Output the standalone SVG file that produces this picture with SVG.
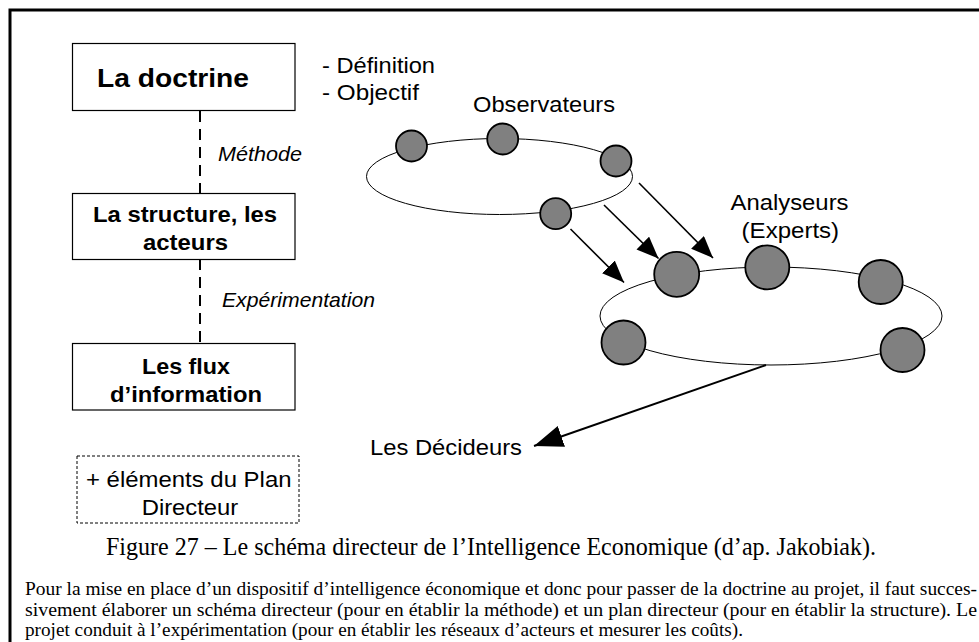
<svg xmlns="http://www.w3.org/2000/svg" width="979" height="642" viewBox="0 0 979 642">
<style>
.sans{font-family:"Liberation Sans",Arial,sans-serif;fill:#000}
.b{font-weight:bold;font-size:22px}
.r{font-size:21.5px}
.i{font-style:italic;font-size:21px}
.serif{font-family:"Liberation Serif","Times New Roman",serif;fill:#000}
.box{fill:#fff;stroke:#000;stroke-width:1.2}
.dbox{fill:#fff;stroke:#000;stroke-width:1;stroke-dasharray:3 2}
.ring{fill:none;stroke:#000;stroke-width:1}
.ob{fill:#808080;stroke:#000;stroke-width:1.8}
.link{stroke:#000;stroke-width:2;stroke-dasharray:11 7;fill:none}
.arr{stroke:#000;stroke-width:1.6;fill:none;marker-end:url(#ah)}
.arr2{stroke:#000;stroke-width:2;fill:none;marker-end:url(#ah2)}
</style>
<defs>
<marker id="ah" markerUnits="userSpaceOnUse" markerWidth="23" markerHeight="18" refX="22" refY="9" orient="auto"><path d="M0,0 L22,9 L0,18 z" fill="#000"/></marker>
<marker id="ah2" markerUnits="userSpaceOnUse" markerWidth="30" markerHeight="22" refX="29" refY="11" orient="auto"><path d="M0,0 L29,11 L0,22 z" fill="#000"/></marker>
</defs>
<rect x="0" y="0" width="979" height="642" fill="#fff"/>
<g id="frame"><path d="M10,642 V10 H979" fill="none" stroke="#000" stroke-width="3"/></g>

<g id="connectors">
<line class="link" x1="200" y1="111" x2="200" y2="193"/>
<line class="link" x1="200" y1="259" x2="200" y2="343"/>
<line class="arr" x1="639" y1="183" x2="713" y2="258"/>
<line class="arr" x1="604" y1="205" x2="658.5" y2="258.5"/>
<line class="arr" x1="570.5" y1="229" x2="624" y2="282.5"/>
<line class="arr2" x1="766" y1="365" x2="534" y2="446"/>
</g>

<g id="doctrine">
<rect class="box" x="72.5" y="43.5" width="222.5" height="67"/>
<text class="sans b" x="97" y="87" style="font-size:25px" textLength="152" lengthAdjust="spacingAndGlyphs">La doctrine</text>
</g>
<g id="doctrine-notes">
<text class="sans r" x="322" y="73" textLength="113" lengthAdjust="spacingAndGlyphs">- Définition</text>
<text class="sans r" x="322" y="100" textLength="97" lengthAdjust="spacingAndGlyphs">- Objectif</text>
</g>
<g id="methode-label"><text class="sans i" x="218" y="161" textLength="84" lengthAdjust="spacingAndGlyphs">Méthode</text></g>
<g id="structure">
<rect class="box" x="72.5" y="193.5" width="222.5" height="66"/>
<text class="sans b" x="93" y="222" textLength="184" lengthAdjust="spacingAndGlyphs">La structure, les</text>
<text class="sans b" x="143" y="250" textLength="85" lengthAdjust="spacingAndGlyphs">acteurs</text>
</g>
<g id="experimentation-label"><text class="sans i" x="222" y="306.5" textLength="153" lengthAdjust="spacingAndGlyphs">Expérimentation</text></g>
<g id="flux">
<rect class="box" x="72.5" y="343.5" width="222.5" height="66.5"/>
<text class="sans b" x="142" y="374" textLength="88" lengthAdjust="spacingAndGlyphs">Les flux</text>
<text class="sans b" x="110" y="401.5" textLength="152" lengthAdjust="spacingAndGlyphs">d’information</text>
</g>
<g id="plan-directeur">
<rect class="dbox" x="77" y="456" width="222" height="67"/>
<text class="sans r" x="86" y="486.5" textLength="205.5" lengthAdjust="spacingAndGlyphs">+ éléments du Plan</text>
<text class="sans r" x="141.7" y="515" textLength="96.6" lengthAdjust="spacingAndGlyphs">Directeur</text>
</g>

<g id="observateurs">
<ellipse class="ring" cx="499.5" cy="176.5" rx="133" ry="38"/>
<circle class="ob" cx="411.5" cy="146" r="15.5"/>
<circle class="ob" cx="502.7" cy="139" r="15.5"/>
<circle class="ob" cx="616" cy="161" r="15.5"/>
<circle class="ob" cx="555.7" cy="213.7" r="15.5"/>
<text class="sans r" x="473" y="111.5" textLength="142" lengthAdjust="spacingAndGlyphs">Observateurs</text>
</g>

<g id="analyseurs">
<ellipse class="ring" cx="771" cy="316" rx="171" ry="49"/>
<circle class="ob" cx="676.7" cy="274.3" r="22.5"/>
<circle class="ob" cx="767.3" cy="267.3" r="22"/>
<circle class="ob" cx="880.7" cy="282" r="22"/>
<circle class="ob" cx="623.5" cy="342.5" r="22"/>
<circle class="ob" cx="902.5" cy="350" r="22"/>
<text class="sans r" x="730.5" y="210" textLength="118" lengthAdjust="spacingAndGlyphs">Analyseurs</text>
<text class="sans r" x="741.6" y="238" textLength="97.5" lengthAdjust="spacingAndGlyphs">(Experts)</text>
</g>

<g id="decideurs"><text class="sans r" x="370" y="455" textLength="152" lengthAdjust="spacingAndGlyphs">Les Décideurs</text></g>

<g id="caption">
<text class="serif" x="106" y="555" font-size="25.5" textLength="770" lengthAdjust="spacingAndGlyphs">Figure 27 – Le schéma directeur de l’Intelligence Economique (d’ap. Jakobiak).</text>
</g>
<g id="body" class="serif" font-size="18.5">
<text x="25" y="595" textLength="952" lengthAdjust="spacingAndGlyphs">Pour la mise en place d’un dispositif d’intelligence économique et donc pour passer de la doctrine au projet, il faut succes-</text>
<text x="25" y="615.5" textLength="952" lengthAdjust="spacingAndGlyphs">sivement élaborer un schéma directeur (pour en établir la méthode) et un plan directeur (pour en établir la structure). Le</text>
<text x="25" y="636" textLength="718" lengthAdjust="spacingAndGlyphs">projet conduit à l’expérimentation (pour en établir les réseaux d’acteurs et mesurer les coûts).</text>
</g>
</svg>
